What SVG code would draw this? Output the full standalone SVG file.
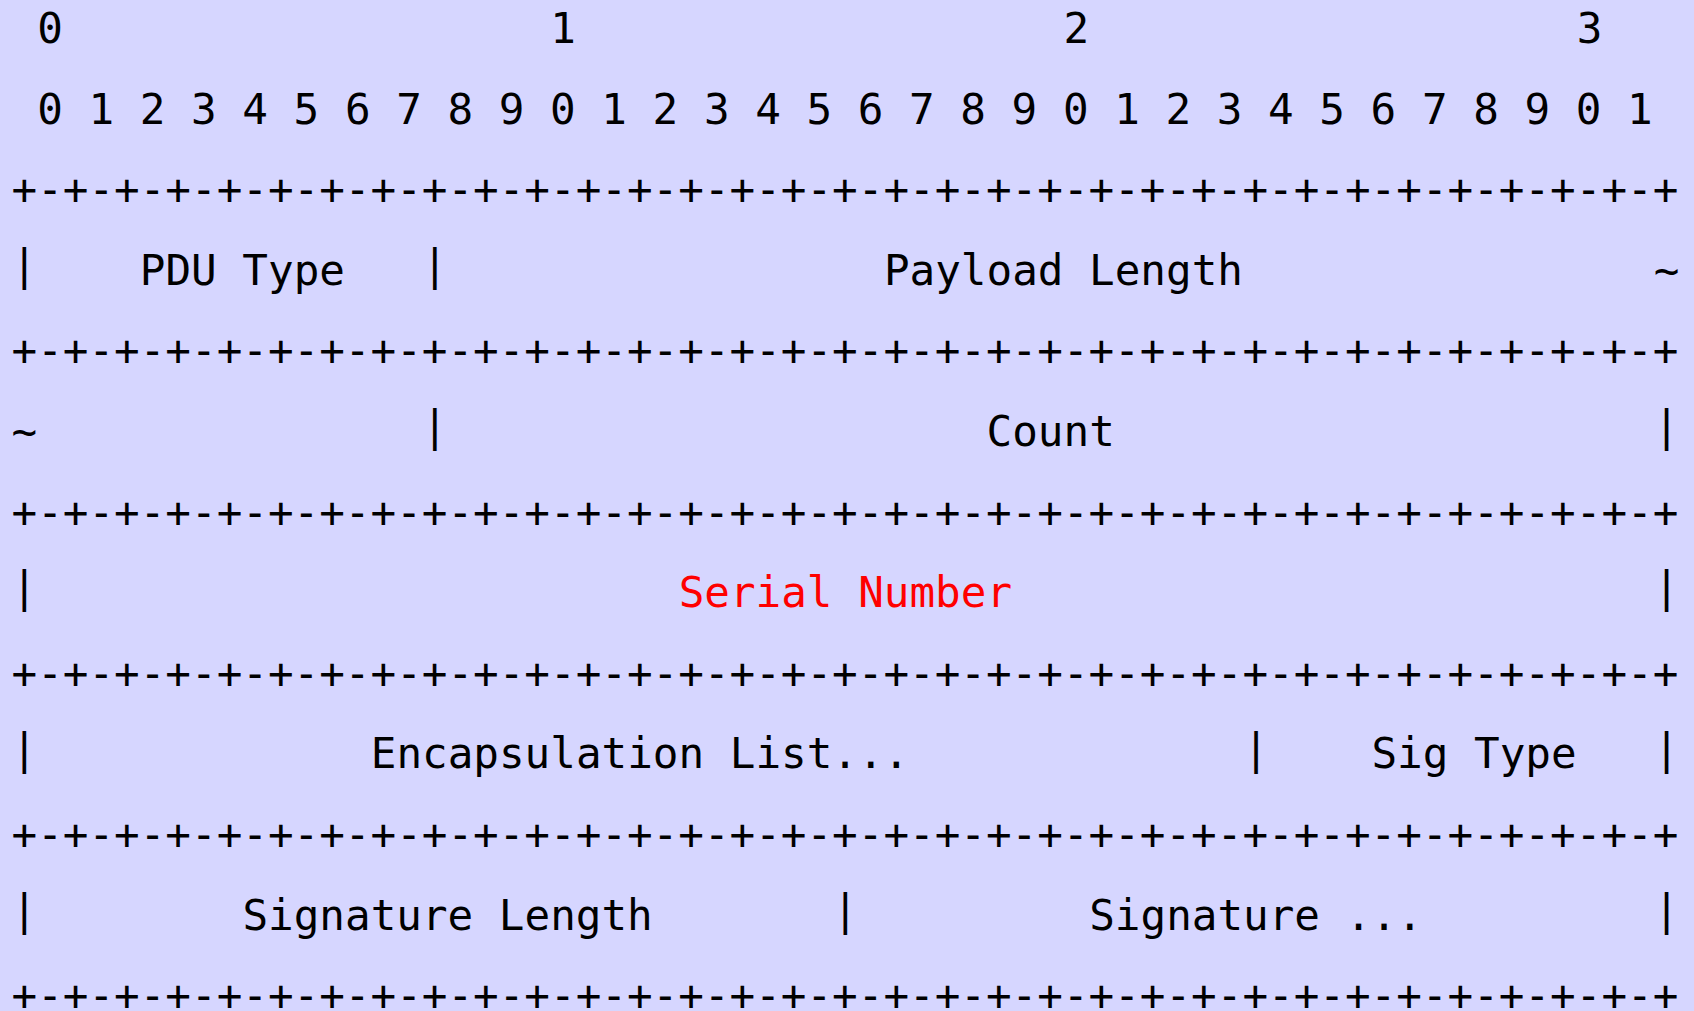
<svg xmlns="http://www.w3.org/2000/svg" width="1694" height="1011" viewBox="0 0 1694 1011">
<style>
text{font-family:"DejaVu Sans Mono","Liberation Mono",monospace;font-size:42.6px;fill:#000;white-space:pre}
.red{fill:#ff0000}
</style>
<rect x="0" y="0" width="1694" height="1011" fill="#d6d6ff"/>
<g id="bit-ruler">
<text x="37.16" y="43">0</text>
<text x="550.36" y="43">1</text>
<text x="1063.56" y="43">2</text>
<text x="1576.76" y="43">3</text>
<text x="37.16" y="123.6" xml:space="preserve">0 1 2 3 4 5 6 7 8 9 0 1 2 3 4 5 6 7 8 9 0 1 2 3 4 5 6 7 8 9 0 1</text>
</g>
<g id="connectors">
<text x="11.5" y="204.2">+-+-+-+-+-+-+-+-+-+-+-+-+-+-+-+-+-+-+-+-+-+-+-+-+-+-+-+-+-+-+-+-+</text>
<text x="11.5" y="365.4">+-+-+-+-+-+-+-+-+-+-+-+-+-+-+-+-+-+-+-+-+-+-+-+-+-+-+-+-+-+-+-+-+</text>
<text x="11.5" y="526.6">+-+-+-+-+-+-+-+-+-+-+-+-+-+-+-+-+-+-+-+-+-+-+-+-+-+-+-+-+-+-+-+-+</text>
<text x="11.5" y="687.8">+-+-+-+-+-+-+-+-+-+-+-+-+-+-+-+-+-+-+-+-+-+-+-+-+-+-+-+-+-+-+-+-+</text>
<text x="11.5" y="849">+-+-+-+-+-+-+-+-+-+-+-+-+-+-+-+-+-+-+-+-+-+-+-+-+-+-+-+-+-+-+-+-+</text>
<text x="11.5" y="1010.2">+-+-+-+-+-+-+-+-+-+-+-+-+-+-+-+-+-+-+-+-+-+-+-+-+-+-+-+-+-+-+-+-+</text>
</g>
<g id="row-pdu-type">
<text x="11.5" y="280">|</text>
<text x="139.8" y="284.8">PDU Type</text>
<text x="422.06" y="280">|</text>
</g>
<g id="row-payload-length">
<text x="883.94" y="284.8">Payload Length</text>
<text x="1653.74" y="284.8">~</text>
<text x="11.5" y="446">~</text>
<text x="422.06" y="441.2">|</text>
</g>
<g id="row-count">
<text x="986.58" y="446">Count</text>
<text x="1653.74" y="441.2">|</text>
</g>
<g id="row-serial-number">
<text x="11.5" y="602.4">|</text>
<text class="red" x="678.66" y="607.2">Serial Number</text>
<text x="1653.74" y="602.4">|</text>
</g>
<g id="row-encapsulation-list">
<text x="11.5" y="763.6">|</text>
<text x="370.74" y="768.4">Encapsulation List...</text>
<text x="1243.18" y="763.6">|</text>
</g>
<g id="row-sig-type">
<text x="1371.48" y="768.4">Sig Type</text>
<text x="1653.74" y="763.6">|</text>
</g>
<g id="row-signature-length">
<text x="11.5" y="924.8">|</text>
<text x="242.44" y="929.6">Signature Length</text>
<text x="832.62" y="924.8">|</text>
</g>
<g id="row-signature">
<text x="1089.22" y="929.6">Signature ...</text>
<text x="1653.74" y="924.8">|</text>
</g>
</svg>
